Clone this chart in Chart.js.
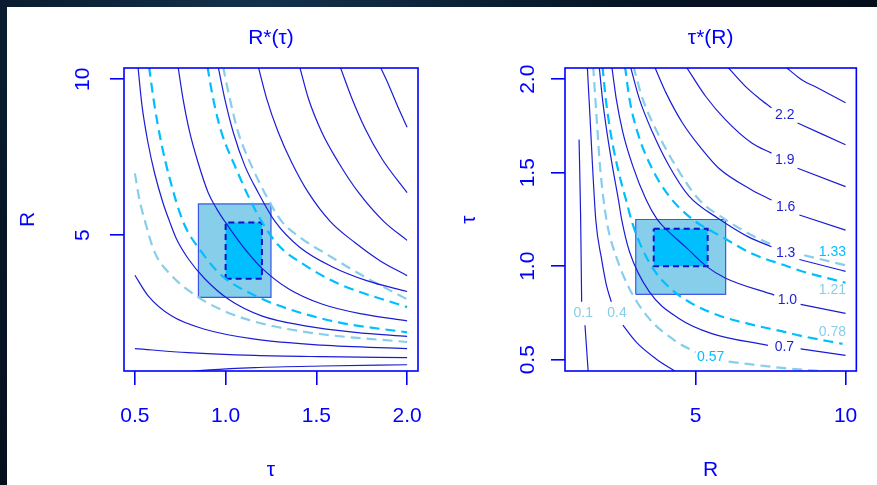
<!DOCTYPE html>
<html>
<head>
<meta charset="utf-8">
<script src="https://cdn.jsdelivr.net/npm/chart.js@4.4.1/dist/chart.umd.min.js"></script>
<style>
  html, body { margin: 0; padding: 0; }
  body {
    width: 877px; height: 485px; overflow: hidden; position: relative;
    background: radial-gradient(circle at 30% 0%, #12324a 0%, #071526 45%, #030a14 100%);
  }
  #panel { position: absolute; left: 7px; top: 7px; right: 0; bottom: 0; background: #fff; }
  canvas { position: absolute; left: 0; top: 0; }
</style>
</head>
<body>
<div id="panel"></div>
<canvas id="left" width="877" height="485"></canvas>
<canvas id="right" width="877" height="485"></canvas>
<script>
// axes
const tauTicks = [0.5, 1.0, 1.5, 2.0];
const rTicks = [5, 10];
const tauRange = [0.44, 2.06];
const rRange = [0.64, 10.36];

// left panel R*(tau): points are [tau, R]
const leftSolid = [
  [[1.852,10.4],[1.899,9.81],[1.954,9.05],[2.0,8.46]],
  [[1.631,10.4],[1.696,9.38],[1.769,8.41],[1.862,7.44],[2.0,6.36]],
  [[1.408,10.4],[1.456,9.38],[1.530,8.30],[1.622,7.33],[1.733,6.36],[1.871,5.44],[2.0,4.83]],
  [[1.180,10.4],[1.226,9.38],[1.290,8.30],[1.364,7.33],[1.456,6.36],[1.576,5.44],[1.712,4.76],[1.850,4.18],[2.0,3.70]],
  [[0.959,10.4],[0.995,9.38],[1.042,8.30],[1.106,7.22],[1.180,6.36],[1.272,5.44],[1.408,4.61],[1.592,3.97],[1.777,3.54],[2.0,3.19]],
  [[0.738,10.4],[0.765,9.38],[0.802,8.30],[0.848,7.33],[0.904,6.36],[0.95,5.85],[1.0,5.40],[1.1,4.6],[1.198,3.95],[1.346,3.28],[1.530,2.79],[1.751,2.47],[2.0,2.25]],
  [[0.517,10.4],[0.539,9.16],[0.572,7.97],[0.608,7.00],[0.655,6.03],[0.691,5.44],[0.728,4.89],[0.793,4.25],[0.885,3.60],[1.014,2.95],[1.198,2.41],[1.438,2.09],[1.714,1.88],[2.0,1.75]],
  [[0.5,3.71],[0.572,3.06],[0.701,2.41],[0.885,1.98],[1.161,1.66],[1.530,1.47],[2.0,1.36]],
  [[0.5,1.36],[0.793,1.23],[1.161,1.14],[1.530,1.10],[2.0,1.07]],
  [[0.77,0.6],[0.911,0.675],[1.161,0.75],[1.530,0.80],[2.0,0.84]]
];
const leftDeep = [
  [[0.900,10.4],[0.931,9.38],[0.977,8.30],[1.051,7.22],[1.125,6.25],[1.198,5.44],[1.290,4.68],[1.438,4.03],[1.622,3.44],[2.0,2.69]],
  [[0.578,10.4],[0.608,9.16],[0.645,7.97],[0.688,6.90],[0.765,5.44],[0.867,4.46],[0.977,3.71],[1.161,3.06],[1.346,2.63],[1.622,2.20],[2.0,1.88]]
];
const leftLight = [
  [[0.986,10.4],[1.023,9.38],[1.069,8.30],[1.143,7.22],[1.235,6.14],[1.309,5.44],[1.419,4.89],[1.567,4.35],[1.751,3.71],[2.0,2.94]],
  [[0.5,6.98],[0.525,6.14],[0.553,5.50],[0.608,4.46],[0.701,3.71],[0.848,3.01],[1.032,2.47],[1.253,2.09],[1.530,1.82],[2.0,1.57]]
];

// right panel tau*(R): points are [R, tau], null = gap for a label
const rightSolid = [
  [[7.97,2.07],[8.51,2.0],[9.06,1.954],[10.0,1.874]],
  [[6.04,2.07],[6.65,1.963],[7.1,1.90],[7.53,1.847],null,[8.40,1.766],[10.0,1.650]],
  [[4.67,2.07],[5.33,1.909],[5.99,1.784],[6.87,1.659],[7.53,1.605],null,[8.40,1.524],[10.0,1.426]],
  [[3.62,2.07],[4.01,1.927],[4.56,1.766],[5.22,1.623],[5.77,1.524],[6.87,1.408],[7.53,1.354],null,[8.46,1.274],[10.0,1.193]],
  [[2.82,2.07],[3.12,1.895],[3.56,1.716],[4.11,1.537],[4.77,1.376],[5.77,1.254],[6.76,1.157],[7.53,1.104],null,[8.46,1.036],[10.0,0.973]],
  [[2.20,2.07],[2.35,1.895],[2.57,1.716],[2.90,1.537],[3.34,1.358],[3.72,1.249],[4.00,1.200],[4.67,1.102],[5.37,0.998],[6.00,0.936],[7.62,0.846],null,[8.50,0.796],[10.0,0.748]],
  [[1.78,2.07],[1.89,1.895],[2.04,1.716],[2.22,1.537],[2.42,1.358],[2.53,1.251],[2.79,1.079],[3.45,0.864],[4.44,0.721],[5.54,0.640],[7.41,0.577],null,[8.50,0.558],[10.0,0.524]],
  [[1.383,2.07],[1.472,1.806],[1.558,1.537],[1.670,1.242],[1.855,1.043],[2.020,0.900],[2.184,0.810],null,[2.570,0.685],[3.009,0.596],[3.668,0.506],[4.40,0.43]],
  [[1.109,1.677],[1.162,1.258],[1.195,0.810],null,[1.307,0.685],[1.416,0.43]]
];
const rightDeep = [
  [[2.64,2.07],[2.79,1.895],[3.06,1.716],[3.50,1.537],[4.11,1.376],[4.87,1.254],[5.99,1.147],[6.87,1.068],[7.97,1.005],[8.51,0.975],[10.0,0.912]],
  [[1.89,2.07],[2.00,1.895],[2.16,1.716],[2.38,1.537],[2.67,1.358],[2.89,1.229],[3.24,1.086],[3.68,0.964],[4.23,0.871],[4.89,0.799],[5.77,0.737],[6.87,0.688],[7.86,0.653],[8.51,0.628],[9.9,0.585]]
];
const rightLight = [
  [[2.92,2.07],[3.23,1.895],[3.72,1.716],[4.33,1.537],[5.10,1.358],[5.98,1.251],[6.87,1.166],[7.58,1.113],null,[8.62,1.059],[10.0,1.005]],
  [[1.58,2.07],[1.69,1.806],[1.80,1.55],[1.93,1.35],[2.08,1.2],[2.35,1.05],[2.79,0.88],[3.45,0.72],[4.33,0.6],[5.0,0.54],null,[6.1,0.49],[7.97,0.455],[10.0,0.43]]
];

// contour labels on the right panel
const labelText = ['2.2', '1.9', '1.6', '1.3', '1.0', '0.7', '1.33', '1.21', '0.78', '0.57', '0.4', '0.1'];
const labelR    = [7.97, 7.97, 8.0, 8.0, 8.06, 7.96, 9.56, 9.56, 9.56, 5.5, 2.377, 1.25];
const labelTau  = [1.806, 1.565, 1.314, 1.07, 0.821, 0.568, 1.077, 0.871, 0.647, 0.515, 0.747, 0.747];
const labelKind = ['solid', 'solid', 'solid', 'solid', 'solid', 'solid', 'deep', 'light', 'light', 'deep', 'light', 'light'];

// shaded regions: outer and inner box
const outerTau = [0.85, 1.25];
const outerR = [3, 6];
const innerTau = [1.0, 1.2];
const innerR = [3.6, 5.4];

const FONT = '"Liberation Sans", Arial, Helvetica, sans-serif';
const BLUE = '#0000ff';
const LINE = '#1c1cd6';
const DEEP = '#00bfff';
const LIGHT = '#87ceeb';
const KIND_COLOR = {solid: '#1e1ed2', deep: DEEP, light: LIGHT};

const boxPlugin = {
  id: 'box',
  afterDatasetsDraw(chart) {
    const {ctx, chartArea: a} = chart;
    ctx.save();
    ctx.strokeStyle = BLUE;
    ctx.lineWidth = 1.6;
    ctx.strokeRect(a.left, a.top, a.right - a.left, a.bottom - a.top);
    ctx.restore();
  }
};

const labelPlugin = {
  id: 'contourLabels',
  afterDatasetsDraw(chart) {
    const {ctx, scales: {x, y}} = chart;
    ctx.save();
    ctx.font = '14px ' + FONT;
    ctx.textAlign = 'center';
    ctx.textBaseline = 'middle';
    labelText.forEach((t, i) => {
      ctx.fillStyle = KIND_COLOR[labelKind[i]];
      ctx.fillText(t, x.getPixelForValue(labelR[i]), y.getPixelForValue(labelTau[i]));
    });
    ctx.restore();
  }
};

function lines(curves, color, width, dash) {
  return curves.map(c => ({
    data: c.map((p, i) => p ? {x: p[0], y: p[1]} : {x: c[i - 1][0], y: null}),
    showLine: true, pointRadius: 0, borderColor: color, borderWidth: width,
    borderDash: dash, fill: false, spanGaps: false, cubicInterpolationMode: 'monotone'
  }));
}

function rect(xs, ys, fillColor, lineColor, width, dash) {
  const corners = [[xs[0], ys[0]], [xs[1], ys[0]], [xs[1], ys[1]], [xs[0], ys[1]], [xs[0], ys[0]]];
  return {
    data: corners.map(p => ({x: p[0], y: p[1]})),
    showLine: true, pointRadius: 0, tension: 0, fill: 'shape',
    backgroundColor: fillColor, borderColor: lineColor, borderWidth: width, borderDash: dash
  };
}

function axis(range, ticks, fmt, title, vertical, tickPad, titlePad) {
  return {
    type: 'linear', min: range[0], max: range[1],
    afterBuildTicks(s) { s.ticks = ticks.map(v => ({value: v})); },
    afterFit(s) { if (vertical) s.width = 116; else s.height = 114; },
    grid: {drawOnChartArea: false, drawTicks: true, tickLength: 14, color: BLUE, lineWidth: 1.6},
    border: {display: false},
    ticks: {
      color: BLUE, padding: tickPad, font: {family: FONT, size: 21}, callback: fmt, autoSkip: false,
      minRotation: vertical ? 90 : 0, maxRotation: vertical ? 90 : 0, crossAlign: vertical ? 'center' : 'near'
    },
    title: {display: true, text: title, color: BLUE, font: {family: FONT, size: 21}, padding: titlePad}
  };
}

function makeChart(id, cfg) {
  return new Chart(document.getElementById(id), {
    type: 'scatter',
    data: {datasets: cfg.datasets},
    options: {
      responsive: false,
      animation: false,
      layout: {padding: cfg.padding},
      plugins: {
        legend: {display: false},
        tooltip: {enabled: false},
        title: {
          display: true, text: cfg.title, color: BLUE, fullSize: false,
          font: {family: FONT, size: 21, weight: 'normal'}, padding: {top: 26, bottom: 16.8}
        }
      },
      scales: {x: cfg.x, y: cfg.y}
    },
    plugins: cfg.extra ? [boxPlugin, cfg.extra] : [boxPlugin]
  });
}

const fixed1 = v => v.toFixed(1);
const whole = v => String(v);

makeChart('left', {
  title: 'R*(τ)',
  padding: {left: 8, right: 459, top: 0, bottom: 0},
  datasets: [
    ...lines(leftSolid, LINE, 1.2, []),
    ...lines(leftDeep, DEEP, 2.2, [10, 6]),
    ...lines(leftLight, LIGHT, 2.2, [10, 6]),
    rect(innerTau, innerR, DEEP, '#1010cc', 2, [6, 4]),
    rect(outerTau, outerR, LIGHT, 'rgba(40,60,230,0.85)', 1.2, [])
  ],
  x: axis(tauRange, tauTicks, fixed1, 'τ', false, 19, {top: 0, bottom: 2}),
  y: axis(rRange, rTicks, whole, 'R', true, 14.8, {top: 7.9, bottom: 0})
});

makeChart('right', {
  title: 'τ*(R)',
  padding: {left: 449, right: 18, top: 0, bottom: 0},
  datasets: [
    ...lines(rightSolid, LINE, 1.2, []),
    ...lines(rightDeep, DEEP, 2.2, [10, 6]),
    ...lines(rightLight, LIGHT, 2.2, [10, 6]),
    rect(innerR, innerTau.slice().reverse(), DEEP, '#1010cc', 2, [6, 4]),
    rect(outerR, outerTau, LIGHT, 'rgba(40,60,230,0.85)', 1.2, [])
  ],
  x: axis(rRange, rTicks, whole, 'R', false, 19, {top: 0, bottom: 2}),
  y: axis(tauRange, tauTicks, fixed1, 'τ', true, 7.9, {top: 7.9, bottom: 0}),
  extra: labelPlugin
});
</script>
</body>
</html>
